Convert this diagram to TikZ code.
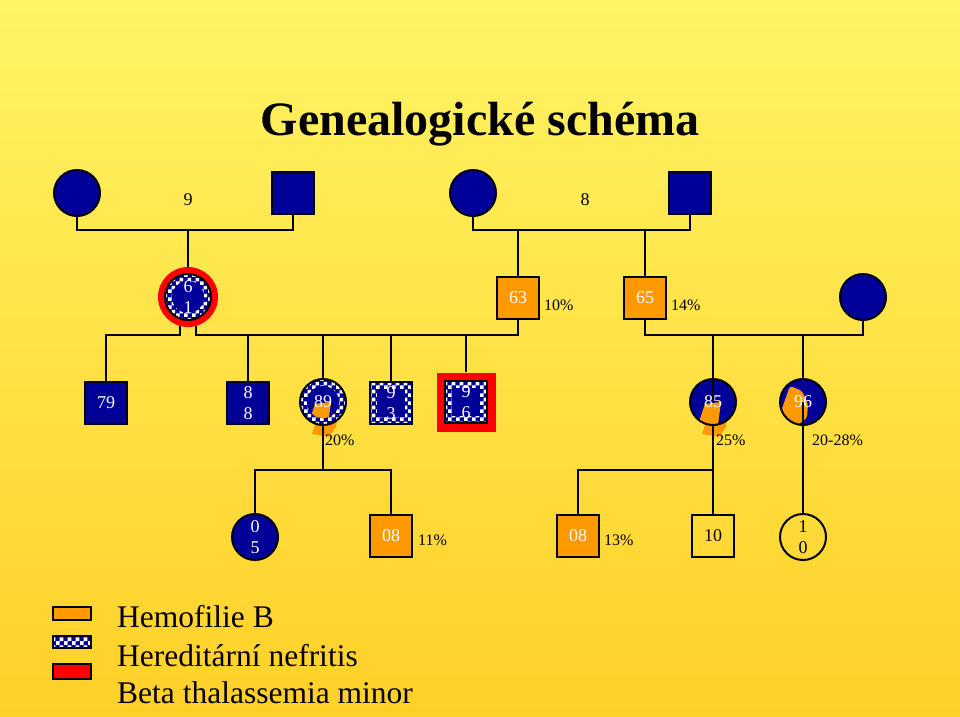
\documentclass[tikz,border=0pt]{standalone}
\usepackage{fontspec}
\setmainfont{Liberation Serif}
\usetikzlibrary{patterns}

\definecolor{navy}{RGB}{0,0,153}
\definecolor{hemo}{RGB}{255,153,0}
\definecolor{bgtop}{RGB}{255,244,100}
\definecolor{bgbot}{RGB}{255,208,40}

\pgfdeclarepatternformonly{bigchecker}{\pgfpointorigin}{\pgfqpoint{8pt}{8pt}}{\pgfqpoint{8pt}{8pt}}{%
  \pgfpathrectangle{\pgfpointorigin}{\pgfqpoint{4pt}{4pt}}%
  \pgfpathrectangle{\pgfqpoint{4pt}{4pt}}{\pgfqpoint{4pt}{4pt}}%
  \pgfusepath{fill}}

\newcommand\wedgepath{(1,-4) -- (17,-6) -- (13,25) -- (6,35) -- (-11,32) -- cycle}

\tikzset{
  line/.style={line width=2pt},
  male/.style={rectangle, draw=black, line width=2pt, fill=navy, minimum size=42pt,
    inner sep=0pt, text=white, font=\fontsize{18}{21}\selectfont, align=center},
  female/.style={male, circle, minimum size=46pt},
  hemom/.style={male, fill=hemo},
  healthy/.style={male, fill=none, text=black},
  nefsq/.style={male, preaction={fill=navy}, pattern=bigchecker, pattern color=white,
    path picture={\fill[navy] ([shift={(-14pt,-14pt)}]path picture bounding box.center) rectangle ++(28pt,28pt);}},
  nefci/.style={female, preaction={fill=navy}, pattern=bigchecker, pattern color=white,
    path picture={\fill[navy] (path picture bounding box.center) circle (16pt);}},
  pct/.style={anchor=west, inner sep=0pt, font=\fontsize{16}{18}\selectfont},
  legtext/.style={anchor=west, inner sep=0pt, font=\fontsize{31.5}{34}\selectfont}
}

\begin{document}
\begin{tikzpicture}[x=1pt, y=-1pt]
% background
\shade[top color=bgtop, bottom color=bgbot] (0,0) rectangle (960,716);
\useasboundingbox (0,0) rectangle (960,716);

\node (title) at (480,124) {\fontsize{48}{56}\selectfont\bfseries Genealogické schéma};

% generation I
\node[female] (f1) at (77,193) {};
\node[male] (m1) at (293,193) {};
\node[font=\fontsize{18}{20}\selectfont] (l9) at (188,200) {9};
\node[female] (f2) at (473,193) {};
\node[male] (m2) at (690,193) {};
\node[font=\fontsize{18}{20}\selectfont] (l8) at (585,200) {8};
\coordinate (c1) at (0,230);

% generation II
\node[circle, fill=red, minimum size=60pt] (p61r) at (188,297) {};
\node[nefci] (p61) at (188,297) {6\\1};
\node[hemom] (n63) at (518,298) {63};
\node[pct] (t10) at (544,305) {10\%};
\node[hemom] (n65) at (645,298) {65};
\node[pct] (t14) at (671,305) {14\%};
\node[female] (f3) at (863,297) {};
\coordinate (c2) at (0,335);

% generation III
\node[male] (n79) at (106,403) {79};
\node[male] (n88) at (248,403) {8\\8};
\fill[hemo, shift={(323,402)}] \wedgepath;
\node[nefci, path picture={\fill[navy] (path picture bounding box.center) circle (16pt);
    \begin{scope}\clip (path picture bounding box.center) circle (16pt);
    \fill[hemo, shift={(path picture bounding box.center)}] \wedgepath;\end{scope}}] (p89) at (323,402) {89};
\node[pct] (t20) at (325,440) {20\%};
\node[nefsq] (n93) at (391,403) {9\\3};
\node[rectangle, fill=red, minimum size=59pt] (n96r) at (466,402) {};
\node[nefsq] (n96) at (466,402) {9\\6};
\fill[hemo, shift={(713,402)}] \wedgepath;
\node[female, path picture={\fill[hemo, shift={(path picture bounding box.center)}] \wedgepath;}] (p85) at (713,402) {85};
\node[pct] (t25) at (716,440) {25\%};
\node[female, path picture={\fill[hemo, rounded corners=3pt, shift={(path picture bounding box.center)}]
    (-4,-22) -- (8,-17) -- (14,-4) -- (13,10) -- (4,17) -- (-16,12) -- cycle;}] (p96) at (803,402) {96};
\node[pct] (t2028) at (812,440) {20-28\%};
\coordinate (c3) at (0,470);

% generation IV
\node[female] (p05) at (255,537) {0\\5};
\node[hemom] (n08a) at (391,536) {08};
\node[pct] (t11) at (418,540) {11\%};
\node[hemom] (n08b) at (578,536) {08};
\node[pct] (t13) at (604,540) {13\%};
\node[healthy] (n10) at (713,536) {10};
\node[healthy, circle, minimum size=46pt] (p10) at (803,537) {1\\0};

% connectors
\draw[line] (f1.south) -- (f1.south |- c1) -| (m1.south);
\draw[line] (l9 |- c1) -- (p61r.north);
\draw[line] (f2.south) -- (f2.south |- c1) -| (m2.south);
\draw[line] (n63.north |- c1) -- (n63.north);
\draw[line] (n65.north |- c1) -- (n65.north);
\draw[line] (p61r.-75) -- (p61r.-75 |- c2) -| (n63.south);
\draw[line] (p61r.-105) -- (p61r.-105 |- c2) -| (n79.north);
\foreach \kid in {n88,p89,n93,n96r}
  \draw[line] (\kid.north |- c2) -- (\kid.north);
\draw[line] (n65.south) -- (n65.south |- c2) -| (f3.south);
\draw[line] (p85.center |- c2) -- (p85.center);
\draw[line] (p96.north |- c2) -- (p96.north);
\draw[line] (p89.south) -- (p89.south |- c3);
\draw[line] (p05.north) -- (p05.north |- c3) -| (n08a.north);
\draw[line] (p85.south) -- (n10.north);
\draw[line] (n08b.north) -- (n08b.north |- c3) -- (p85.south |- c3);
\draw[line] (p96.center) -- (p10.north);

% legend
\draw[line width=1.5pt, fill=hemo] (53,607) rectangle (91,620);
\draw[line width=1.5pt, preaction={fill=navy}, pattern=bigchecker, pattern color=white] (53,636) rectangle (91,648);
\draw[line width=1.5pt, fill=red] (53,664) rectangle (91,679);
\node[legtext] (lg1) at (117,617) {Hemofilie B};
\node[legtext] (lg2) at (117,656) {Hereditární nefritis};
\node[legtext] (lg3) at (117,693) {Beta thalassemia minor};
\end{tikzpicture}
\end{document}
